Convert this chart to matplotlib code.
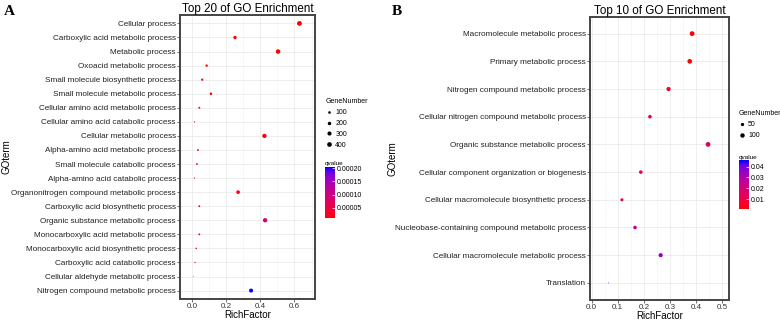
import numpy as np
import matplotlib
matplotlib.use("Agg")
import matplotlib.pyplot as plt
from matplotlib.colors import LinearSegmentedColormap, Normalize
from matplotlib.lines import Line2D

plt.rcParams['font.family'] = ['Liberation Sans', 'DejaVu Sans']

#*****************DATOS PANEL A***********************
terms_a = ["Cellular process", "Carboxylic acid metabolic process", "Metabolic process",
           "Oxoacid metabolic process", "Small molecule biosynthetic process",
           "Small molecule metabolic process", "Cellular amino acid metabolic process",
           "Cellular amino acid catabolic process", "Cellular metabolic process",
           "Alpha-amino acid metabolic process", "Small molecule catabolic process",
           "Alpha-amino acid catabolic process", "Organonitrogen compound metabolic process",
           "Carboxylic acid biosynthetic process", "Organic substance metabolic process",
           "Monocarboxylic acid metabolic process", "Monocarboxylic acid biosynthetic process",
           "Carboxylic acid catabolic process", "Cellular aldehyde metabolic process",
           "Nitrogen compound metabolic process"]
rich_a = [0.629, 0.252, 0.504, 0.086, 0.060, 0.111, 0.043, 0.015, 0.424, 0.035,
          0.029, 0.015, 0.270, 0.043, 0.428, 0.043, 0.025, 0.018, 0.010, 0.346]
genes_a = [430, 190, 370, 80, 70, 95, 50, 20, 330, 45,
           40, 20, 230, 45, 340, 45, 30, 22, 15, 280]
q_a = [1.0e-5, 1.5e-5, 1.0e-5, 1.5e-5, 2.0e-5, 1.5e-5, 2.5e-5, 3.0e-5, 1.2e-5, 3.0e-5,
       3.5e-5, 4.0e-5, 2.0e-5, 6.0e-5, 9.0e-5, 7.0e-5, 8.0e-5, 8.0e-5, 9.0e-5, 2.06e-4]
xticks_a = [0.0, 0.2, 0.4, 0.6]
size_breaks_a = [100, 200, 300, 400]
q_breaks_a = [0.00005, 0.00010, 0.00015, 0.00020]

#*****************DATOS PANEL B***********************
terms_b = ["Macromolecule metabolic process", "Primary metabolic process",
           "Nitrogen compound metabolic process", "Cellular nitrogen compound metabolic process",
           "Organic substance metabolic process", "Cellular component organization or biogenesis",
           "Cellular macromolecule biosynthetic process",
           "Nucleobase-containing compound metabolic process",
           "Cellular macromolecule metabolic process", "Translation"]
rich_b = [0.384, 0.375, 0.294, 0.223, 0.445, 0.188, 0.116, 0.166, 0.264, 0.064]
genes_b = [120, 112, 88, 62, 118, 62, 42, 60, 88, 5]
q_b = [0.002, 0.0008, 0.004, 0.008, 0.015, 0.012, 0.016, 0.025, 0.034, 0.046]
xticks_b = [0.0, 0.1, 0.2, 0.3, 0.4, 0.5]
size_breaks_b = [50, 100]
q_breaks_b = [0.01, 0.02, 0.03, 0.04]


# rampa rojo -> azul interpolada en Lab (como ggplot)
def srgb_a_lab(c):
    c = np.array(c, float)
    lin = np.where(c <= 0.04045, c / 12.92, ((c + 0.055) / 1.055) ** 2.4)
    m = np.array([[0.4124, 0.3576, 0.1805], [0.2126, 0.7152, 0.0722], [0.0193, 0.1192, 0.9505]])
    xyz = m @ lin / np.array([0.95047, 1.0, 1.08883])
    f = np.where(xyz > 0.008856, np.cbrt(xyz), 7.787 * xyz + 16 / 116)
    return np.array([116 * f[1] - 16, 500 * (f[0] - f[1]), 200 * (f[1] - f[2])])


def lab_a_srgb(lab):
    fy = (lab[0] + 16) / 116
    f = np.array([fy + lab[1] / 500, fy, fy - lab[2] / 200])
    xyz = np.where(f ** 3 > 0.008856, f ** 3, (f - 16 / 116) / 7.787) * np.array([0.95047, 1.0, 1.08883])
    mi = np.array([[3.2406, -1.5372, -0.4986], [-0.9689, 1.8758, 0.0415], [0.0557, -0.2040, 1.0570]])
    lin = np.clip(mi @ xyz, 0, 1)
    return np.where(lin <= 0.0031308, 12.92 * lin, 1.055 * lin ** (1 / 2.4) - 0.055)


lab1 = srgb_a_lab([1, 0, 0])
lab2 = srgb_a_lab([0, 0, 1])
colores = [np.clip(lab_a_srgb(lab1 + (lab2 - lab1) * t), 0, 1) for t in np.linspace(0, 1, 11)]
cmap = LinearSegmentedColormap.from_list("rojoazul", colores)

fig = plt.figure(figsize=(7.8, 3.21), dpi=100)


def px_a_pt(px):
    return px * 72 / 100.0


def diametro(v, vmin, vmax, dmin=0.8, dmax=4.8):
    r = (np.asarray(v, float) - vmin) / (vmax - vmin)
    r = np.clip(r, 0, 1)
    return px_a_pt(dmin + (dmax - dmin) * np.sqrt(r))


def panel(rect, terms, rich, genes, q, xticks, xlim, titulo, cbrect, q_breaks, q_fmt,
          size_breaks, leg_xy, ylab_x, letra, letra_xy):
    ax = fig.add_axes(rect)
    n = len(terms)
    y = np.arange(n)
    gmin, gmax = min(genes), max(genes)
    d = diametro(genes, gmin, gmax)
    norm = Normalize(min(q), max(q))
    sc = ax.scatter(rich, y, s=d ** 2, c=q, cmap=cmap, norm=norm, linewidths=0, zorder=3)
    ax.set_ylim(n - 0.4, -0.6)
    ax.set_xlim(*xlim)
    ax.set_yticks(y)
    ax.set_yticklabels(terms, fontsize=5.9, color="#222222")
    ax.set_xticks(xticks)
    ax.set_xticklabels(["%.1f" % t for t in xticks], fontsize=5.8, color="#333333")
    mid = [(xticks[i] + xticks[i + 1]) / 2 for i in range(len(xticks) - 1)]
    mid = [xticks[0] - (xticks[1] - xticks[0]) / 2] + mid + [xticks[-1] + (xticks[1] - xticks[0]) / 2]
    ax.set_xticks([m for m in mid if xlim[0] < m < xlim[1]], minor=True)
    ax.tick_params(axis="x", which="minor", length=0)
    ax.tick_params(axis="both", which="major", length=2, width=0.5, color="#333333", pad=1)
    ax.grid(True, which="major", color="#EBEBEB", lw=0.6, zorder=0)
    ax.grid(True, which="minor", axis="x", color="#F2F2F2", lw=0.4, zorder=0)
    ax.set_axisbelow(True)
    for s in ax.spines.values():
        s.set_color("#444444")
        s.set_linewidth(1.4)
    ax.set_xlabel("RichFactor", fontsize=7, labelpad=0)
    ax.set_title(titulo, fontsize=8.4, pad=2)
    fig.text(ylab_x, rect[1] + rect[3] / 2, "GOterm", rotation=90, fontsize=7,
             ha="center", va="center")
    fig.text(letra_xy[0], letra_xy[1], letra, fontsize=11, fontweight="bold",
             family="Liberation Serif", ha="left", va="top")

    # leyenda de tamano
    hs = [Line2D([], [], ls="none", marker="o", color="black", markeredgewidth=0,
                 markersize=float(diametro(b, gmin, gmax))) for b in size_breaks]
    fig.legend(hs, [str(b) for b in size_breaks], title="GeneNumber", loc="upper left",
               bbox_to_anchor=leg_xy, frameon=False, fontsize=5, title_fontsize=5,
               handlelength=1.0, handletextpad=0.4, labelspacing=0.55,
               borderpad=0, alignment="left")

    # barra de color
    cax = fig.add_axes(cbrect)
    cb = fig.colorbar(sc, cax=cax)
    cb.set_ticks(q_breaks)
    cb.set_ticklabels([q_fmt % v for v in q_breaks])
    cb.outline.set_visible(False)
    cax.tick_params(length=2, width=0.5, color="white", direction="in", labelsize=5, pad=1.5)
    cax.set_title("qvalue", fontsize=4.6, loc="left", pad=1)
    return ax


panel([180 / 780, 22 / 321, 135 / 780, 284 / 321], terms_a, rich_a, genes_a, q_a,
      xticks_a, (-0.07, 0.72), "Top 20 of GO Enrichment",
      [325 / 780, 102.7 / 321, 9.5 / 780, 51.6 / 321], q_breaks_a, "%.5f",
      size_breaks_a, (322 / 780, 1 - 95 / 321), 6 / 780, "A", (4 / 780, 1 - 5 / 321))

panel([590 / 780, 21.5 / 321, 139 / 780, 282.5 / 321], terms_b, rich_b, genes_b, q_b,
      xticks_b, (-0.006, 0.525), "Top 10 of GO Enrichment",
      [739 / 780, 111.7 / 321, 10 / 780, 49.3 / 321], q_breaks_b, "%.2f",
      size_breaks_b, (735 / 780, 1 - 107 / 321), 392 / 780, "B", (392 / 780, 1 - 5 / 321))

fig.savefig("out.png", dpi=100)
